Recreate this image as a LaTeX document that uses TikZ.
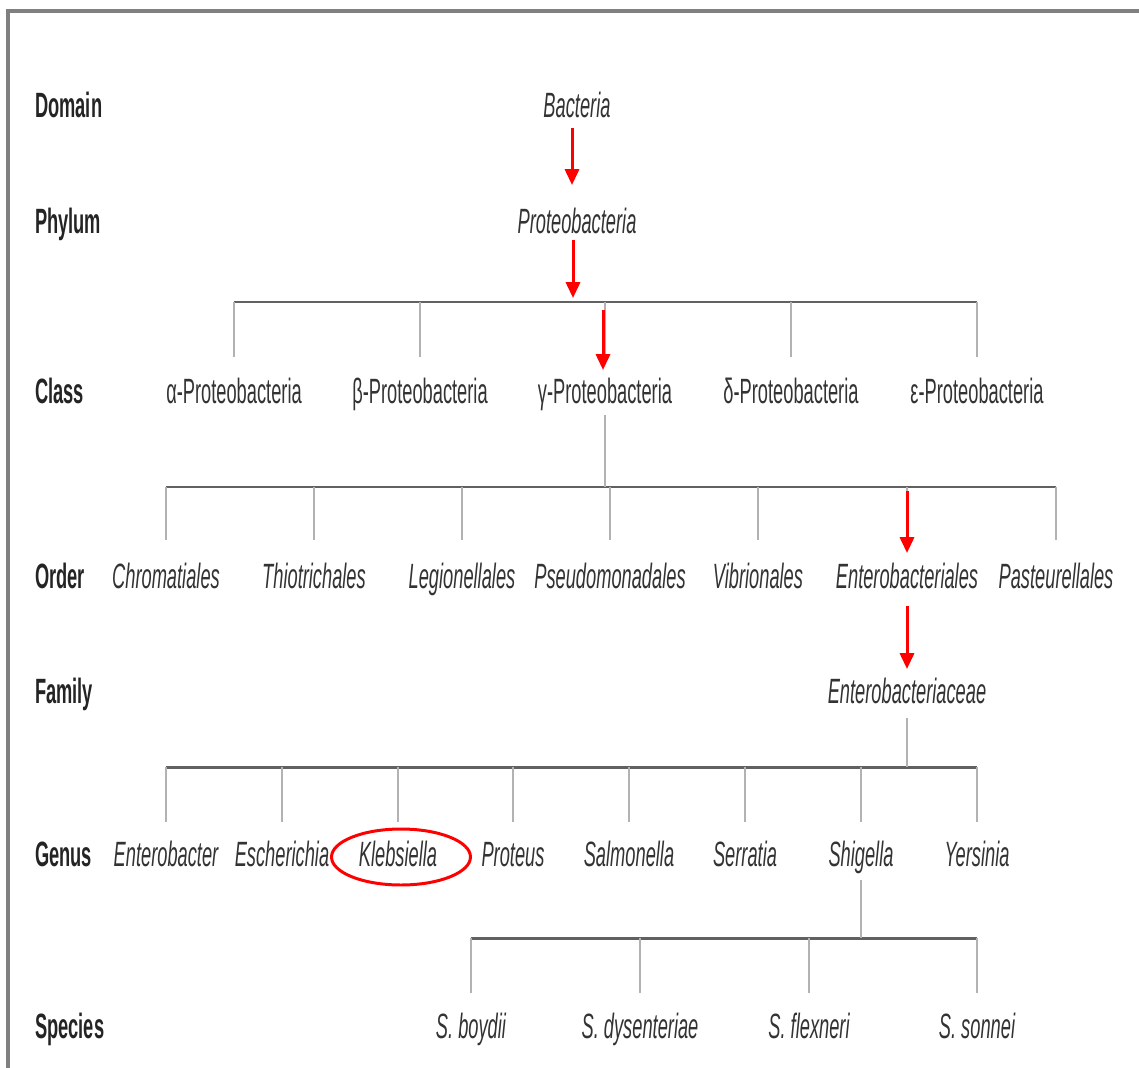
\documentclass[tikz,border=0pt]{standalone}
\usepackage{fontspec}
\setmainfont{Liberation Sans}[FakeStretch=0.52]
\usepackage{tikz}
\usetikzlibrary{arrows.meta,calc,shapes.geometric}
\definecolor{ink}{rgb}{0.2,0.2,0.2}
\definecolor{barcol}{rgb}{0.38,0.38,0.38}
\definecolor{stemcol}{rgb}{0.7,0.7,0.7}
\definecolor{framecol}{rgb}{0.5,0.5,0.5}
\tikzset{
  rank/.style={anchor=west,text=ink!70!black,text height=15pt,text depth=0pt,font=\fontsize{20}{24}\selectfont\bfseries},
  taxon/.style={text=ink,text height=15pt,text depth=0pt,font=\fontsize{20}{24}\selectfont\itshape},
  clsname/.style={text=ink,text height=15pt,text depth=0pt,font=\fontsize{20}{24}\selectfont},
  hbar/.style={barcol,line width=1.7pt},
  stem/.style={stemcol,line width=1.1pt},
  hit/.style={red,line width=1.7pt,-{Triangle[width=8pt,length=9pt]}}
}

\begin{document}
\begin{tikzpicture}[x=0.02cm,y=-0.02cm]
\useasboundingbox (0,0) rectangle (1139,1068);
\draw[framecol,line width=2pt] (8,1068) -- (8,11) -- (1139,11);
% ranks
\node[rank] (dom) at (29,104) {Domain};
\node[rank] (phy) at (29,220) {Phylum};
\node[rank] (cls) at (29,390) {Class};
\node[rank] (ord) at (29,575) {Order};
\node[rank] (fmy) at (29,690) {Family};
\node[rank] (gen) at (29,853) {Genus};
\node[rank] (spc) at (29,1025) {Species};
% domain, phylum
\node[taxon] (bac) at (577,104) {Bacteria};
\node[taxon] (pro) at (577,220) {Proteobacteria};
% classes
\node[clsname] (ca) at (234,390) {α-Proteobacteria};
\node[clsname] (cb) at (420,390) {β-Proteobacteria};
\node[clsname] (cg) at (605,390) {γ-Proteobacteria};
\node[clsname] (cd) at (791,390) {δ-Proteobacteria};
\node[clsname] (ce) at (977,390) {ε-Proteobacteria};
% orders
\node[taxon] (o1) at (166,575) {Chromatiales};
\node[taxon] (o2) at (314,575) {Thiotrichales};
\node[taxon] (o3) at (462,575) {Legionellales};
\node[taxon] (o4) at (610,575) {Pseudomonadales};
\node[taxon] (o5) at (758,575) {Vibrionales};
\node[taxon] (o6) at (907,575) {Enterobacteriales};
\node[taxon] (o7) at (1056,575) {Pasteurellales};
% family
\node[taxon] (fam) at (907,690) {Enterobacteriaceae};
% genera
\node[taxon] (g1) at (166,853) {Enterobacter};
\node[taxon] (g2) at (282,853) {Escherichia};
\node[taxon] (g3) at (398,853) {Klebsiella};
\node[taxon] (g4) at (513,853) {Proteus};
\node[taxon] (g5) at (629,853) {Salmonella};
\node[taxon] (g6) at (745,853) {Serratia};
\node[taxon] (g7) at (861,853) {Shigella};
\node[taxon] (g8) at (977,853) {Yersinia};
% species
\node[taxon] (s1) at (471,1025) {S. boydii};
\node[taxon] (s2) at (640,1025) {S. dysenteriae};
\node[taxon] (s3) at (809,1025) {S. flexneri};
\node[taxon] (s4) at (977,1025) {S. sonnei};
% bars
\coordinate (cbar) at (605,302);
\coordinate (obar) at (605,487);
\coordinate (gbar) at (907,767);
\coordinate (sbar) at (861,938);
\draw[hbar] (ca |- cbar) -- (ce |- cbar);
\draw[hbar] (o1 |- obar) -- (o7 |- obar);
\draw[hbar] (g1 |- gbar) -- (g8 |- gbar);
\draw[hbar] (s1 |- sbar) -- (s4 |- sbar);
% stems
\foreach \n in {ca,cb,cg,cd,ce} \draw[stem] (\n |- cbar) -- ($(\n)+(0,-33)$);
\foreach \n in {o1,o2,o3,o4,o5,o6,o7} \draw[stem] (\n |- obar) -- ($(\n)+(0,-35)$);
\foreach \n in {g1,g2,g3,g4,g5,g6,g7,g8} \draw[stem] (\n |- gbar) -- ($(\n)+(0,-31)$);
\foreach \n in {s1,s2,s3,s4} \draw[stem] (\n |- sbar) -- ($(\n)+(0,-32)$);
\draw[stem] ($(cg)+(0,25)$) -- (obar);
\draw[stem] ($(fam)+(0,28)$) -- (gbar);
\draw[stem] ($(g7)+(0,27)$) -- (sbar);
% path to Klebsiella
\draw[hit] ($(bac)+(-5,24)$) -- ($(pro)+(-5,-35)$);
\draw[hit] ($(pro)+(-4,20)$) -- ($(pro |- cbar)+(-4,-4)$);
\draw[hit] ($(cg)+(-2,-80)$) -- ($(cg)+(-2,-20)$);
\draw[hit] ($(o6)+(0,-84)$) -- ($(o6)+(0,-22)$);
\draw[hit] ($(o6)+(0,31)$) -- ($(fam)+(0,-21)$);
\node[ellipse,draw=red,line width=1.7pt,minimum width=2.78cm,minimum height=1.12cm] (ring) at ($(g3)+(3,4)$) {};
\end{tikzpicture}
\end{document}
